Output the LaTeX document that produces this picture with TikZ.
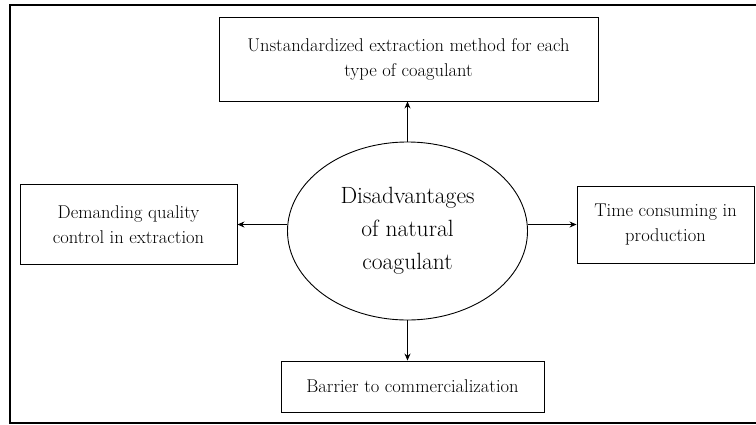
\documentclass[tikz,border=0pt]{standalone}
\usetikzlibrary{shapes.geometric,arrows.meta}
\begin{document}
\begin{tikzpicture}[x=1pt,y=-1pt,
  box/.style={draw, line width=0.9pt, inner sep=0pt, align=center, font=\fontsize{18.5}{25}\selectfont},
  arr/.style={line width=0.9pt, -{Stealth[length=7pt,width=6pt]}}]
\useasboundingbox (0,0) rectangle (756,424);
% outer frame (no right side)
\draw[line width=2pt] (756,5) -- (10,5) -- (10,423) -- (756,423);
\node[box, minimum width=379pt, minimum height=84pt] (top) at (408.5,59) {Unstandardized extraction method for each\\type of coagulant};
\node[box, minimum width=217pt, minimum height=80pt] (left) at (128.5,224.5) {Demanding quality\\control in extraction};
\node[box, minimum width=177pt, minimum height=77pt] (right) at (665.5,224.5) {Time consuming in\\production};
\node[box, minimum width=263pt, minimum height=51pt] (bot) at (412.5,386.5) {Barrier to commercialization};
\node[draw, ellipse, line width=0.9pt, minimum width=240pt, minimum height=178pt, inner sep=0pt, align=center, font=\fontsize{23.5}{33}\selectfont] (e) at (407.5,231) {Disadvantages\\of natural\\coagulant};
\draw[arr] (e.north) -- (e.north |- top.south);
\draw[arr] (e.south) -- (e.south |- bot.north);
\draw[arr] (left.east -| e.west) -- (left.east);
\draw[arr] (right.west -| e.east) -- (right.west);
\end{tikzpicture}
\end{document}
